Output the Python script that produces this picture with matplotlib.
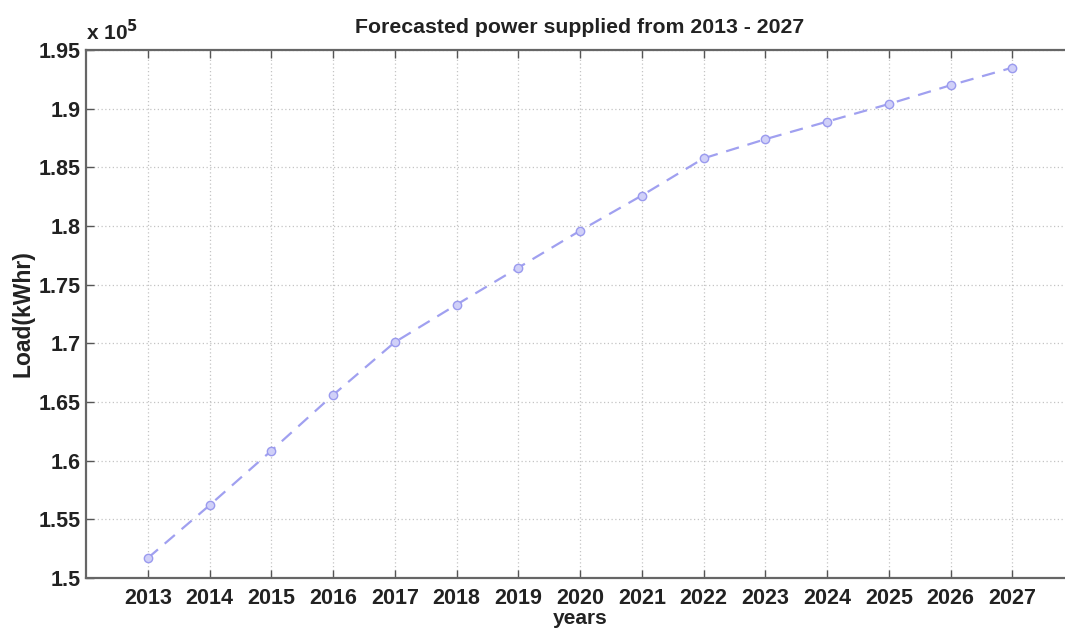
import matplotlib
matplotlib.use("Agg")
import matplotlib.pyplot as plt
from matplotlib.ticker import FuncFormatter, MultipleLocator

years = [2013, 2014, 2015, 2016, 2017, 2018, 2019, 2020,
         2021, 2022, 2023, 2024, 2025, 2026, 2027]
load_kwhr = [151700, 156200, 160850, 165600, 170100, 173300, 176450, 179600,
             182600, 185770, 187400, 188900, 190400, 192000, 193500]

plt.rcParams["font.family"] = ["Liberation Sans", "DejaVu Sans"]
plt.rcParams["font.weight"] = "bold"

fig = plt.figure(figsize=(10.65, 6.32), dpi=100)
ax = fig.add_axes([0.0808, 0.0854, 0.9277, 0.8354])

ax.plot(years, load_kwhr, linestyle=(0, (6, 4)), color="#a0a0f0", lw=1.6,
        marker="o", markersize=6, markerfacecolor="#d0d0f8",
        markeredgecolor="#9a9aee", markeredgewidth=1.0)

ax.set_xlim(2012, 2028)
ax.set_ylim(150000, 195000)
ax.set_xticks(years)
ax.yaxis.set_major_locator(MultipleLocator(5000))
ax.yaxis.set_major_formatter(FuncFormatter(lambda v, _: f"{v / 1e5:g}"))

ax.grid(True, linestyle=(0, (1, 2)), color="#c4c4c4", lw=0.9)
ax.tick_params(axis="both", direction="in", length=6, width=1, color="#555555",
               top=True, right=True, labelsize=15.5)
ax.tick_params(axis="y", pad=4)
ax.tick_params(axis="x", pad=7)
for lbl in ax.get_xticklabels() + ax.get_yticklabels():
    lbl.set_fontweight("bold")
    lbl.set_color("#222222")
for sp in ax.spines.values():
    sp.set_color("#666666")
    sp.set_linewidth(1.6)

ax.text(0.0, 1.012, r"x 10$^5$", transform=ax.transAxes, fontsize=15,
        fontweight="bold", ha="left", va="bottom", color="#222222")
ax.set_title("Forecasted power supplied from 2013 - 2027", fontsize=15.3,
             fontweight="bold", pad=12, color="#222222")
ax.set_xlabel("years", fontsize=15, fontweight="bold", labelpad=0, color="#222222")
ax.set_ylabel("Load(kWhr)", fontsize=16.5, fontweight="bold", labelpad=3, color="#222222")

fig.savefig("out.png", dpi=100)
